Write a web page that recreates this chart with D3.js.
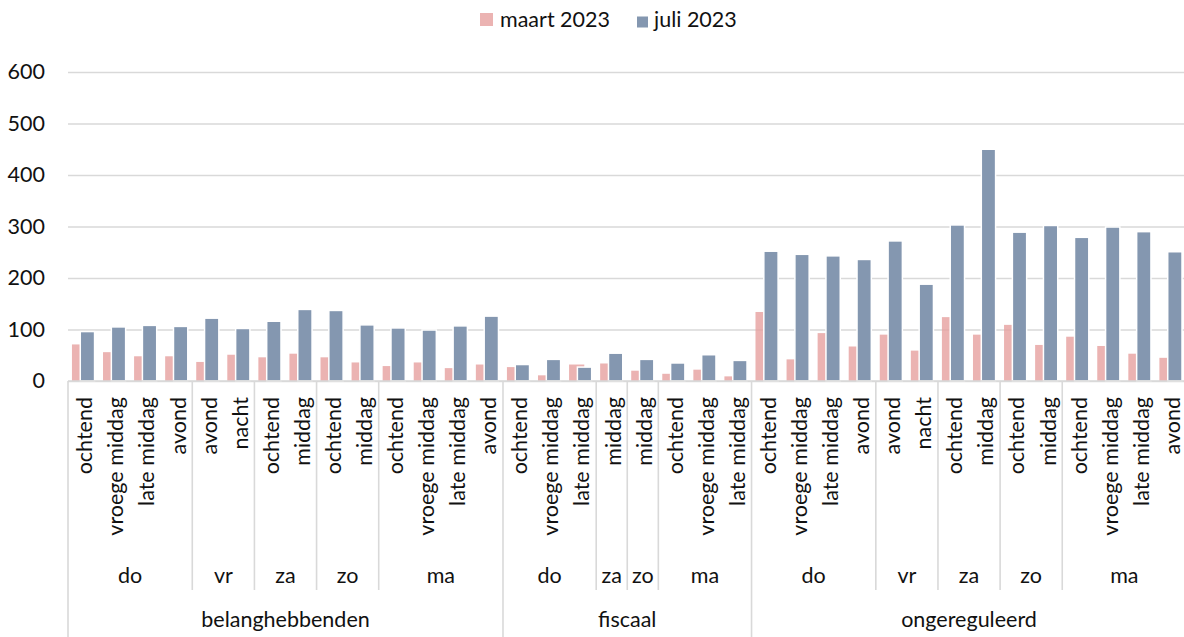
<!DOCTYPE html>
<html>
<head>
<meta charset="utf-8">
<script src="https://cdn.jsdelivr.net/npm/d3@7"></script>
<style>
  html, body { margin: 0; padding: 0; background: #fff; }
  svg { display: block; }
  text { font-family: Lato, "Open Sans", sans-serif; fill: #111; }
</style>
</head>
<body>
<svg id="chart" width="1184" height="637"></svg>
<script>
// Three-level category axis: group › day › part of day
const groups = ["belanghebbenden", "fiscaal", "ongereguleerd"];
const groupSizes = [14, 8, 14];

const days = ["do", "vr", "za", "zo", "ma", "do", "za", "zo", "ma", "do", "vr", "za", "zo", "ma"];
const daySizes = [4, 2, 2, 2, 4, 3, 1, 1, 3, 4, 2, 2, 2, 4];

const dayparts = [
  "ochtend", "vroege middag", "late middag", "avond", "avond", "nacht",
  "ochtend", "middag", "ochtend", "middag",
  "ochtend", "vroege middag", "late middag", "avond",
  "ochtend", "vroege middag", "late middag", "middag", "middag",
  "ochtend", "vroege middag", "late middag",
  "ochtend", "vroege middag", "late middag", "avond", "avond", "nacht",
  "ochtend", "middag", "ochtend", "middag",
  "ochtend", "vroege middag", "late middag", "avond"
];

const seriesNames = ["maart 2023", "juli 2023"];
const maart2023 = [
  71, 56, 48, 48, 37, 51, 46, 53, 46, 36, 29, 36, 25, 32,
  27, 11, 32, 34, 20, 14, 22, 9,
  134, 42, 93, 67, 90, 59, 124, 90, 109, 70, 86, 68, 53, 45
];
const juli2023 = [
  96, 105, 108, 106, 122, 102, 116, 139, 137, 109, 103, 99, 107, 126,
  32, 42, 27, 54, 42, 35, 51, 40,
  252, 246, 243, 236, 272, 188, 303, 450, 289, 302, 279, 299, 290, 251
];

const yTicks = [0, 100, 200, 300, 400, 500, 600];

const colors = { maart: "#E6A09F", juli: "#8497B0", grid: "#D9D9D9" };
const fontSize = 21.5;

const svg = d3.select("#chart");
const plotLeft = 68, plotTop = 72, plotBottom = 381;
const step = 31.07;
const idx = d3.range(dayparts.length);

const x = d3.scaleBand().domain(idx).range([plotLeft, plotLeft + step * idx.length]).padding(0);
const y = d3.scaleLinear().domain([0, 600]).range([plotBottom, plotTop]);
const bw = x.bandwidth();

// horizontal gridlines
const yAxis = d3.axisLeft(y).tickValues(yTicks).tickSize(-(1184 - plotLeft)).tickPadding(23);
const gy = svg.append("g").attr("transform", `translate(${plotLeft},0)`).call(yAxis);
gy.select(".domain").remove();
gy.selectAll(".tick line").attr("stroke", colors.grid).attr("stroke-width", 1.4);
gy.selectAll(".tick text")
  .attr("font-size", fontSize).attr("fill", "#111")
  .style("font-family", "Lato, 'Open Sans', sans-serif");

// maart 2023 bars (wider, behind)
svg.append("g").selectAll("rect").data(idx).join("rect")
  .attr("x", i => x(i) + bw * 0.127)
  .attr("width", bw * 0.49)
  .attr("y", i => y(maart2023[i]))
  .attr("height", i => y(0) - y(maart2023[i]))
  .attr("fill", colors.maart)
  .attr("fill-opacity", 0.8);

// juli 2023 bars (front, white outline)
svg.append("g").selectAll("rect").data(idx).join("rect")
  .attr("x", i => x(i) + bw * 0.395)
  .attr("width", bw * 0.46)
  .attr("y", i => y(juli2023[i]))
  .attr("height", i => y(0) - y(juli2023[i]))
  .attr("fill", colors.juli)
  .attr("stroke", "#fff")
  .attr("stroke-width", 1.5);

// category axis baseline
svg.append("line")
  .attr("x1", plotLeft).attr("x2", 1184)
  .attr("y1", y(0)).attr("y2", y(0))
  .attr("stroke", colors.grid).attr("stroke-width", 1.6);

// level 1: rotated part-of-day labels
svg.append("g").selectAll("text").data(idx).join("text")
  .attr("transform", i => `translate(${x(i) + bw / 2},397) rotate(-90)`)
  .attr("text-anchor", "end")
  .attr("y", 8.8)
  .attr("font-size", fontSize)
  .text(i => dayparts[i]);

// separators between days and groups
const dayEdges = d3.cumsum(daySizes);
const groupEdges = Array.from(d3.cumsum(groupSizes));
const sepY1 = y(0);
svg.append("line")
  .attr("x1", plotLeft).attr("x2", plotLeft).attr("y1", sepY1).attr("y2", 637)
  .attr("stroke", colors.grid).attr("stroke-width", 1.6);
svg.append("g").selectAll("line").data(dayEdges).join("line")
  .attr("x1", e => x(e - 1) + bw).attr("x2", e => x(e - 1) + bw)
  .attr("y1", sepY1)
  .attr("y2", e => groupEdges.includes(e) ? 637 : 590)
  .attr("stroke", colors.grid).attr("stroke-width", 1.6);

// level 2: day labels
const dayStarts = [0, ...Array.from(dayEdges).slice(0, -1)];
svg.append("g").selectAll("text").data(days).join("text")
  .attr("x", (d, k) => (x(dayStarts[k]) + x(dayEdges[k] - 1) + bw) / 2)
  .attr("y", 582.5)
  .attr("text-anchor", "middle")
  .attr("font-size", fontSize)
  .text(d => d);

// level 3: group labels
const groupStarts = [0, ...groupEdges.slice(0, -1)];
svg.append("g").selectAll("text").data(groups).join("text")
  .attr("x", (d, k) => (x(groupStarts[k]) + x(groupEdges[k] - 1) + bw) / 2)
  .attr("y", 627)
  .attr("text-anchor", "middle")
  .attr("font-size", fontSize)
  .text(d => d);

// legend
const legend = svg.append("g");
legend.append("rect").attr("x", 480).attr("y", 13).attr("width", 13).attr("height", 13)
  .attr("fill", colors.maart).attr("fill-opacity", 0.8);
legend.append("text").attr("x", 500).attr("y", 27).attr("font-size", fontSize).text(seriesNames[0]);
legend.append("rect").attr("x", 637).attr("y", 16.5).attr("width", 11).attr("height", 11)
  .attr("fill", colors.juli);
legend.append("text").attr("x", 654).attr("y", 27).attr("font-size", fontSize).text(seriesNames[1]);
</script>
</body>
</html>
